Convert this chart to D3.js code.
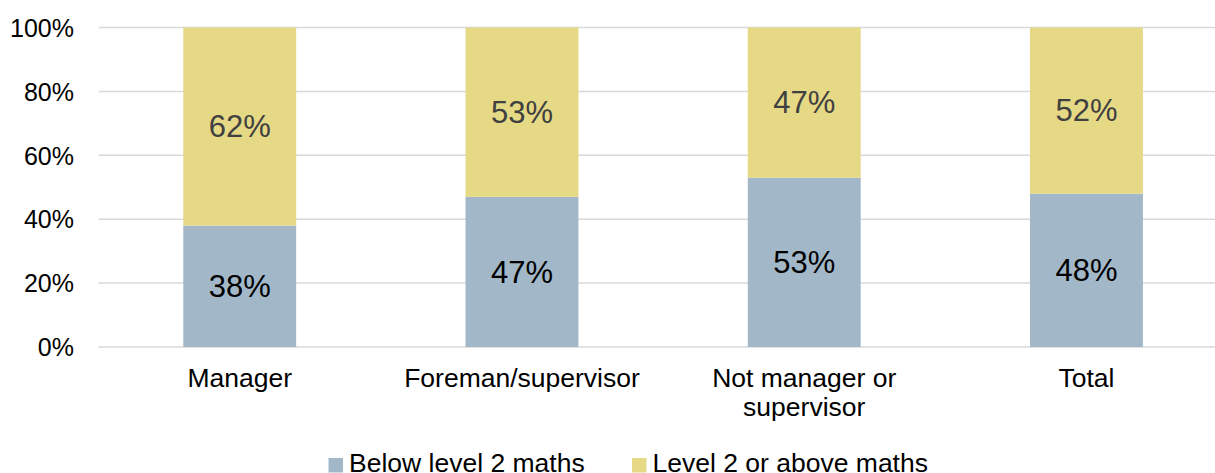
<!DOCTYPE html>
<html>
<head>
<meta charset="utf-8">
<script src="https://cdn.jsdelivr.net/npm/d3@7"></script>
<style>
  html, body { margin: 0; padding: 0; background: #fff; }
  svg { display: block; font-family: "Liberation Sans", Arial, sans-serif; }
</style>
</head>
<body>
<svg id="chart" width="1215" height="473"></svg>
<script>
const categories = [["Manager"], ["Foreman/supervisor"], ["Not manager or", "supervisor"], ["Total"]];
const categoryKeys = ["Manager", "Foreman/supervisor", "Not manager or supervisor", "Total"];
const seriesNames = ["Below level 2 maths", "Level 2 or above maths"];
const belowLevel2 = [38, 47, 53, 48];
const level2OrAbove = [62, 53, 47, 52];
const tickValues = [0, 20, 40, 60, 80, 100];
const colors = ["#A2B8C8", "#E6D986"];
const labelColors = ["#000000", "#404040"];

const svg = d3.select("#chart");
const x = d3.scaleBand().domain(categoryKeys).range([98.6, 1227.6]).paddingInner(0.6).paddingOuter(0.3);
const y = d3.scaleLinear().domain([0, 100]).range([347, 27.5]);

// gridlines
svg.append("g").selectAll("line").data(tickValues).join("line")
  .attr("x1", 98.6).attr("x2", 1215)
  .attr("y1", d => y(d)).attr("y2", d => y(d))
  .attr("stroke", "#D9D9D9").attr("stroke-width", 1.5);

// y axis labels
const yAxis = d3.axisLeft(y).tickValues(tickValues).tickFormat(d => d + "%").tickSize(0).tickPadding(0);
const yg = svg.append("g").attr("transform", "translate(74,0)").call(yAxis);
yg.select(".domain").remove();
yg.selectAll("text").attr("font-size", 25).attr("fill", "#000").attr("font-family", "Liberation Sans, Arial, sans-serif").attr("dy", "0.35em");

// stacked data
const rows = categoryKeys.map((k, i) => ({ key: k, below: belowLevel2[i], above: level2OrAbove[i] }));
const stack = d3.stack().keys(["below", "above"]);
const series = stack(rows);

const g = svg.append("g");
series.forEach((s, si) => {
  g.append("g").selectAll("rect").data(s).join("rect")
    .attr("x", d => x(d.data.key))
    .attr("width", x.bandwidth())
    .attr("y", d => y(d[1]))
    .attr("height", d => y(d[0]) - y(d[1]))
    .attr("fill", colors[si]);
  g.append("g").selectAll("text").data(s).join("text")
    .attr("x", d => x(d.data.key) + x.bandwidth() / 2)
    .attr("y", d => (y(d[0]) + y(d[1])) / 2)
    .attr("dy", "0.35em")
    .attr("text-anchor", "middle")
    .attr("font-size", 31)
    .attr("fill", labelColors[si])
    .text(d => (d[1] - d[0]) + "%");
});

// category labels
const cg = svg.append("g");
categories.forEach((lines, i) => {
  const t = cg.append("text")
    .attr("x", x(categoryKeys[i]) + x.bandwidth() / 2)
    .attr("y", 387)
    .attr("text-anchor", "middle")
    .attr("font-size", 26.5)
    .attr("fill", "#000");
  lines.forEach((ln, li) => {
    t.append("tspan").attr("x", x(categoryKeys[i]) + x.bandwidth() / 2)
      .attr("dy", li === 0 ? 0 : 28.5).text(ln);
  });
});

// legend
const legendItems = [{ x: 328.5, name: seriesNames[0], c: colors[0] }, { x: 632, name: seriesNames[1], c: colors[1] }];
const lg = svg.append("g");
legendItems.forEach(it => {
  lg.append("rect").attr("x", it.x).attr("y", 458).attr("width", 14.5).attr("height", 14.5).attr("fill", it.c);
  lg.append("text").attr("x", it.x + 20.5).attr("y", 471.5).attr("font-size", 26.5).attr("fill", "#000").text(it.name);
});
</script>
</body>
</html>
